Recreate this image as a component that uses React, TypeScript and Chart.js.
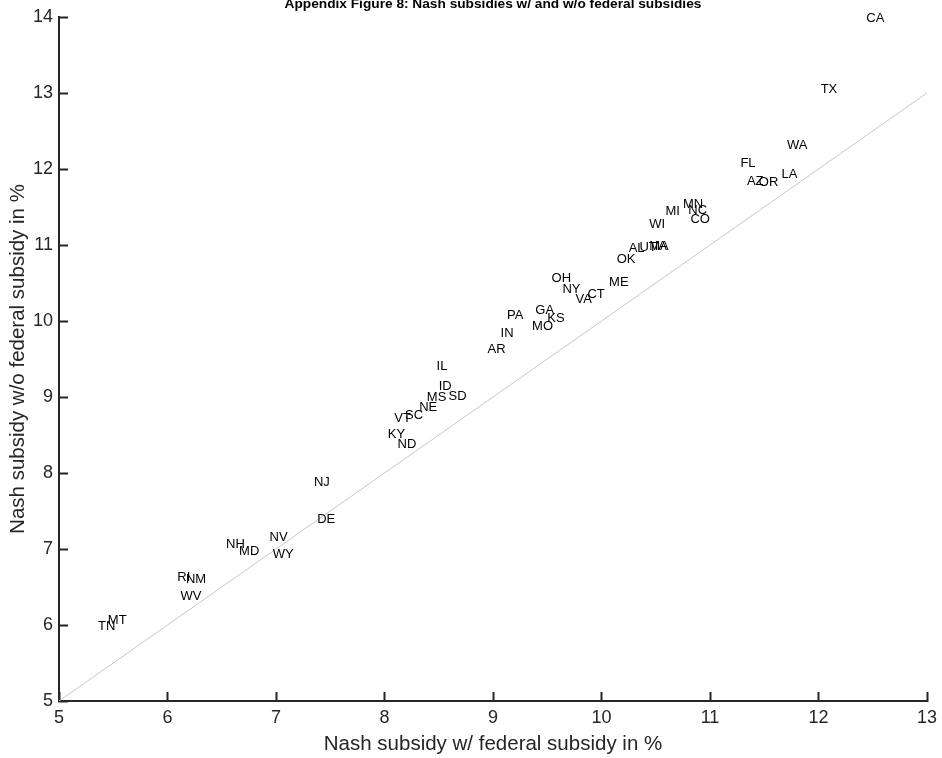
import { useEffect, useRef } from "react";
import { Chart, registerables } from "chart.js";

Chart.register(...registerables);

// State codes and Nash subsidy rates (%) with and without the federal subsidy
const states = [
  "CA", "TX", "WA", "FL", "AZ", "OR", "LA", "MN", "NC", "CO",
  "MI", "WI", "MA", "IA", "UT", "AL", "OK", "ME", "OH", "NY",
  "VA", "CT", "PA", "GA", "KS", "MO", "IN", "AR", "IL", "ID",
  "MS", "SD", "NE", "SC", "VT", "KY", "ND", "NJ", "DE", "NV",
  "WY", "NH", "MD", "RI", "NM", "WV", "TN", "MT",
];

const withFederal = [
  12.44, 12.02, 11.71, 11.28, 11.34, 11.45, 11.66, 10.75, 10.8, 10.82,
  10.59, 10.44, 10.44, 10.49, 10.35, 10.25, 10.14, 10.07, 9.54, 9.64,
  9.76, 9.87, 9.13, 9.39, 9.5, 9.36, 9.07, 8.95, 8.48, 8.5,
  8.39, 8.59, 8.32, 8.19, 8.09, 8.03, 8.12, 7.35, 7.38, 6.94,
  6.97, 6.54, 6.66, 6.09, 6.17, 6.12, 5.36, 5.45,
];

const withoutFederal = [
  14.0, 13.07, 12.33, 12.09, 11.86, 11.84, 11.95, 11.55, 11.47, 11.36,
  11.46, 11.29, 11.0, 11.0, 10.99, 10.97, 10.83, 10.53, 10.58, 10.43,
  10.3, 10.37, 10.09, 10.16, 10.05, 9.95, 9.86, 9.64, 9.42, 9.16,
  9.01, 9.03, 8.88, 8.78, 8.74, 8.53, 8.39, 7.89, 7.41, 7.17,
  6.95, 7.08, 6.99, 6.64, 6.62, 6.39, 6.0, 6.08,
];

// 45-degree reference line endpoints
const diagonal = [5, 13];

const xRange = [5, 13];
const yRange = [5, 14];

const TITLE = "Appendix Figure 8: Nash subsidies w/ and w/o federal subsidies";

const FONT = "'Liberation Sans', Arial, Helvetica, sans-serif";
const AXIS_COLOR = "#262626";

// Writes each state's code at its point, left-aligned and vertically centred
const stateLabels = {
  id: "stateLabels",
  afterDatasetsDraw(chart: any) {
    const meta = chart.getDatasetMeta(1);
    const ctx = chart.ctx;
    ctx.save();
    ctx.font = `13px ${FONT}`;
    ctx.fillStyle = "#000000";
    ctx.textAlign = "left";
    ctx.textBaseline = "middle";
    meta.data.forEach((el: any, i: number) => {
      // capitals sit a little high on the "middle" baseline, so nudge down
      ctx.fillText(states[i], el.x, el.y + 1.5);
    });
    ctx.restore();
  },
};

// Bold heading centred over the plot area, sitting against the top edge
const plotHeading = {
  id: "plotHeading",
  afterDraw(chart: any) {
    const { ctx, chartArea } = chart;
    ctx.save();
    ctx.font = `bold 13.7px ${FONT}`;
    ctx.fillStyle = "#000000";
    ctx.textAlign = "center";
    ctx.textBaseline = "alphabetic";
    ctx.fillText(TITLE, (chartArea.left + chartArea.right) / 2, 8);
    ctx.restore();
  },
};

export default function App() {
  const canvasRef = useRef<HTMLCanvasElement | null>(null);

  useEffect(() => {
    document.body.style.margin = "0";
    const canvas = canvasRef.current;
    if (!canvas) return;

    const chart = new Chart(canvas, {
      type: "scatter",
      data: {
        datasets: [
          {
            type: "line",
            data: diagonal.map((v) => ({ x: v, y: v })),
            borderColor: "#c8c8c8",
            borderWidth: 1,
            pointRadius: 0,
            fill: false,
          },
          {
            type: "scatter",
            data: states.map((_, i) => ({ x: withFederal[i], y: withoutFederal[i] })),
            pointRadius: 0,
            pointHoverRadius: 0,
            backgroundColor: "rgba(0,0,0,0)",
            borderColor: "rgba(0,0,0,0)",
          },
        ],
      },
      options: {
        responsive: false,
        animation: false,
        events: [],
        layout: { padding: { left: 0, right: 15, top: 17, bottom: 0 } },
        plugins: {
          legend: { display: false },
          tooltip: { enabled: false },
          title: { display: false },
        },
        scales: {
          x: {
            type: "linear",
            min: xRange[0],
            max: xRange[1],
            afterFit: (scale: any) => {
              scale.height = 57;
              scale.paddingLeft = 0;
              scale.paddingRight = 0;
            },
            ticks: {
              stepSize: 1,
              color: AXIS_COLOR,
              font: { family: FONT, size: 18 },
              padding: 15,
              maxRotation: 0,
            },
            grid: {
              drawOnChartArea: false,
              drawTicks: true,
              tickLength: -9,
              tickColor: AXIS_COLOR,
              tickWidth: 2,
            },
            border: { display: true, color: AXIS_COLOR, width: 2 },
            title: {
              display: true,
              text: "Nash subsidy w/ federal subsidy in %",
              color: AXIS_COLOR,
              font: { family: FONT, size: 20.5 },
              padding: { top: 0, bottom: 1 },
            },
          },
          y: {
            type: "linear",
            min: yRange[0],
            max: yRange[1],
            afterFit: (scale: any) => {
              scale.width = 59;
              scale.paddingTop = 0;
              scale.paddingBottom = 0;
            },
            ticks: {
              stepSize: 1,
              color: AXIS_COLOR,
              font: { family: FONT, size: 18 },
              padding: 15,
            },
            grid: {
              drawOnChartArea: false,
              drawTicks: true,
              tickLength: -9,
              tickColor: AXIS_COLOR,
              tickWidth: 2,
            },
            border: { display: true, color: AXIS_COLOR, width: 2 },
            title: {
              display: true,
              text: "Nash subsidy w/o federal subsidy in %",
              color: AXIS_COLOR,
              font: { family: FONT, size: 20.5 },
              padding: { top: 6, bottom: 0 },
            },
          },
        },
      },
      plugins: [stateLabels, plotHeading],
    });

    return () => chart.destroy();
  }, []);

  return (
    <div style={{ width: 942, height: 758 }}>
      <canvas ref={canvasRef} width={942} height={758} style={{ display: "block" }} />
    </div>
  );
}
